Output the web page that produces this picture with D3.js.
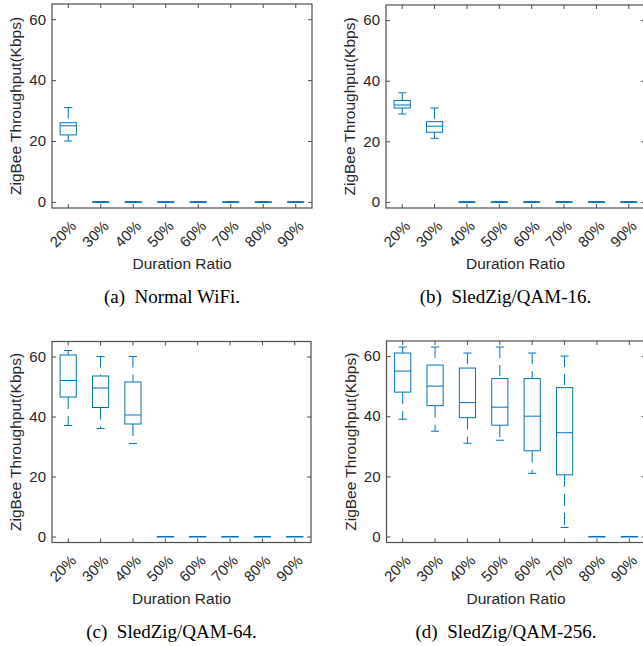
<!DOCTYPE html>
<html>
<head>
<meta charset="utf-8">
<script src="https://cdn.jsdelivr.net/npm/d3@7"></script>
<style>
  body { margin: 0; background: #fff; }
  svg { display: block; }
  .axis text { font-family: "Liberation Sans", Arial, sans-serif; fill: #262626; }
</style>
</head>
<body>
<script>
var w = 643;
var h = 646;

// categories (duration ratio)
var ratios = ['20%', '30%', '40%', '50%', '60%', '70%', '80%', '90%'];
var yTicks = [0, 20, 40, 60];

// box stats per ratio: [lower whisker, q1, median, q3, upper whisker]
var normalWifi = [
  [20, 22, 25, 26, 31],
  [0, 0, 0, 0, 0], [0, 0, 0, 0, 0], [0, 0, 0, 0, 0],
  [0, 0, 0, 0, 0], [0, 0, 0, 0, 0], [0, 0, 0, 0, 0], [0, 0, 0, 0, 0]
];
var qam16 = [
  [29, 31, 32, 33.5, 36],
  [21, 23, 25, 26.5, 31],
  [0, 0, 0, 0, 0], [0, 0, 0, 0, 0], [0, 0, 0, 0, 0],
  [0, 0, 0, 0, 0], [0, 0, 0, 0, 0], [0, 0, 0, 0, 0]
];
var qam64 = [
  [37, 46.5, 52, 60.5, 62],
  [36, 43, 49.5, 53.5, 60],
  [31, 37.5, 40.5, 51.5, 60],
  [0, 0, 0, 0, 0], [0, 0, 0, 0, 0],
  [0, 0, 0, 0, 0], [0, 0, 0, 0, 0], [0, 0, 0, 0, 0]
];
var qam256 = [
  [39, 48, 55, 61, 63],
  [35, 43.5, 50, 57, 63],
  [31, 39.5, 44.5, 56, 61],
  [32, 37, 43, 52.5, 63],
  [21, 28.5, 40, 52.5, 61],
  [3, 20.5, 34.5, 49.5, 60],
  [0, 0, 0, 0, 0], [0, 0, 0, 0, 0]
];

var captions = ['(a)  Normal WiFi.', '(b)  SledZig/QAM-16.', '(c)  SledZig/QAM-64.', '(d)  SledZig/QAM-256.'];

var svg = d3.select('body')
            .append('svg')
            .attr('width', w)
            .attr('height', h);

var blue = '#0072BD';
var axisColor = '#4d4d4d';

function drawPanel(stats, caption, left, top, width, height) {
    var x = d3.scaleBand()
              .domain(ratios)
              .range([left, left + width]);
    var y = d3.scaleLinear()
              .domain([-2, 65])
              .range([top + height, top]);

    var g = svg.append('g');
    var bottom = top + height;

    // y axis labels + inward ticks on both sides
    var yAxis = d3.axisLeft(y).tickValues(yTicks).tickSize(-4).tickPadding(6);
    var ya = g.append('g').attr('class', 'axis')
              .attr('transform', 'translate(' + left + ',0)')
              .call(yAxis);
    ya.select('.domain').remove();
    ya.selectAll('line').attr('stroke', axisColor);
    ya.selectAll('text').attr('font-size', '15px');

    var yr = g.append('g').attr('class', 'axis')
              .attr('transform', 'translate(' + (left + width) + ',0)')
              .call(d3.axisRight(y).tickValues(yTicks).tickSize(-4).tickFormat(''));
    yr.select('.domain').remove();
    yr.selectAll('line').attr('stroke', axisColor);

    // x axis
    var xa = g.append('g').attr('class', 'axis')
              .attr('transform', 'translate(0,' + bottom + ')')
              .call(d3.axisBottom(x).tickSize(-4).tickPadding(0));
    xa.select('.domain').remove();
    xa.selectAll('line').attr('stroke', axisColor);
    xa.selectAll('text')
      .attr('font-size', '15px')
      .attr('text-anchor', 'end')
      .attr('dy', null)
      .attr('y', 0)
      .attr('transform', 'translate(9,19) rotate(-45)');

    var xt = g.append('g').attr('class', 'axis')
              .attr('transform', 'translate(0,' + top + ')')
              .call(d3.axisTop(x).tickSize(-4).tickFormat(''));
    xt.select('.domain').remove();
    xt.selectAll('line').attr('stroke', axisColor);

    // frame
    g.append('rect')
     .attr('x', left).attr('y', top)
     .attr('width', width).attr('height', height)
     .attr('fill', 'none')
     .attr('stroke', axisColor)
     .attr('stroke-width', 1.2);

    var bw = x.bandwidth() * 0.5;
    var cw = x.bandwidth() * 0.25;

    var boxes = g.selectAll('g.box')
                 .data(stats)
                 .enter()
                 .append('g')
                 .attr('class', 'box')
                 .attr('transform', function(d, i) {
                     return 'translate(' + (x(ratios[i]) + x.bandwidth() / 2) + ',0)';
                 });

    // whiskers (dashed)
    boxes.append('line')
         .attr('x1', 0).attr('x2', 0)
         .attr('y1', function(d) { return y(d[4]); })
         .attr('y2', function(d) { return y(d[3]); })
         .attr('stroke', blue).attr('stroke-dasharray', '11,7');
    boxes.append('line')
         .attr('x1', 0).attr('x2', 0)
         .attr('y1', function(d) { return y(d[1]); })
         .attr('y2', function(d) { return y(d[0]); })
         .attr('stroke', blue).attr('stroke-dasharray', '12,7');

    // caps
    boxes.append('line')
         .attr('x1', -cw / 2).attr('x2', cw / 2)
         .attr('y1', function(d) { return y(d[4]); })
         .attr('y2', function(d) { return y(d[4]); })
         .attr('stroke', blue);
    boxes.append('line')
         .attr('x1', -cw / 2).attr('x2', cw / 2)
         .attr('y1', function(d) { return y(d[0]); })
         .attr('y2', function(d) { return y(d[0]); })
         .attr('stroke', blue);

    // box
    boxes.append('rect')
         .attr('x', -bw / 2)
         .attr('width', bw)
         .attr('y', function(d) { return y(d[3]); })
         .attr('height', function(d) { return Math.max(0.5, y(d[1]) - y(d[3])); })
         .attr('fill', 'none')
         .attr('stroke', blue);

    // median
    boxes.append('line')
         .attr('x1', -bw / 2).attr('x2', bw / 2)
         .attr('y1', function(d) { return y(d[2]); })
         .attr('y2', function(d) { return y(d[2]); })
         .attr('stroke', blue);

    // axis labels
    g.append('text')
     .attr('x', left + width / 2)
     .attr('y', bottom + 61)
     .attr('text-anchor', 'middle')
     .attr('font-family', '"Liberation Sans", Arial, sans-serif')
     .attr('font-size', '15.5px')
     .attr('fill', '#262626')
     .text('Duration Ratio');

    g.append('text')
     .attr('transform', 'translate(' + (left - 31) + ',' + (top + height / 2) + ') rotate(-90)')
     .attr('text-anchor', 'middle')
     .attr('font-family', '"Liberation Sans", Arial, sans-serif')
     .attr('font-size', '15.5px')
     .attr('fill', '#262626')
     .text('ZigBee Throughput(Kbps)');

    // caption
    g.append('text')
     .attr('x', left + width / 2 - 10)
     .attr('y', bottom + 95)
     .attr('text-anchor', 'middle')
     .attr('font-family', '"Liberation Serif", "Times New Roman", serif')
     .attr('font-size', '19px')
     .attr('fill', '#000')
     .style('white-space', 'pre')
     .text(caption);
}

drawPanel(normalWifi, captions[0], 52, 4, 260, 204);
drawPanel(qam16, captions[1], 386, 5, 259, 203);
drawPanel(qam64, captions[2], 52, 341.5, 259, 201);
drawPanel(qam256, captions[3], 386.5, 341, 259, 201.5);
</script>
</body>
</html>
